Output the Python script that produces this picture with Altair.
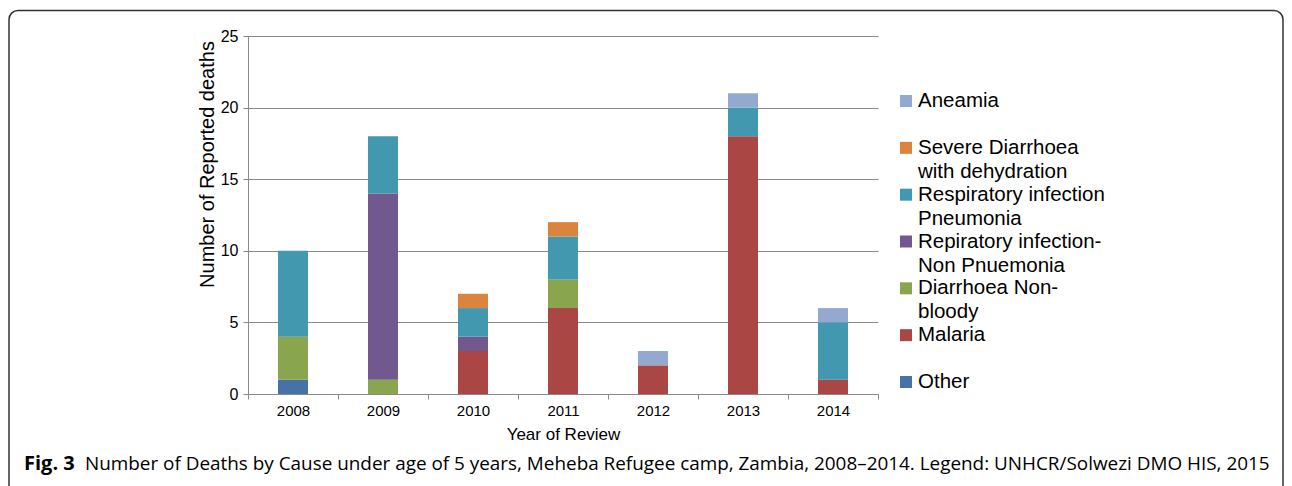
import altair as alt
import pandas as pd

years = ["2008", "2009", "2010", "2011", "2012", "2013", "2014"]

# stack order, bottom -> top
causes = [
    "Other",
    "Malaria",
    "Diarrhoea Non-bloody",
    "Repiratory infection-Non Pnuemonia",
    "Respiratory infection Pneumonia",
    "Severe Diarrhoea with dehydration",
    "Aneamia",
]
colors = ["#4572A7", "#AA4643", "#89A54E", "#71588F", "#4198AF", "#DB843D", "#93A9CF"]

other = [1, 0, 0, 0, 0, 0, 0]
malaria = [0, 0, 3, 6, 2, 18, 1]
diarrhoea = [3, 1, 0, 2, 0, 0, 0]
resp_non_pneumonia = [0, 13, 1, 0, 0, 0, 0]
resp_pneumonia = [6, 4, 2, 3, 0, 2, 4]
severe_diarrhoea = [0, 0, 1, 1, 0, 0, 0]
aneamia = [0, 0, 0, 0, 1, 1, 1]
series = [other, malaria, diarrhoea, resp_non_pneumonia, resp_pneumonia, severe_diarrhoea, aneamia]

# legend text, top -> bottom
legend_order = causes[::-1]
legend_line1 = ["Aneamia", "Severe Diarrhoea", "Respiratory infection", "Repiratory infection-",
                "Diarrhoea Non-", "Malaria", "Other"]
legend_line2 = ["", "with dehydration", "Pneumonia", "Non Pnuemonia", "bloody", "", ""]

y_ticks = [0, 5, 10, 15, 20, 25]
caption_bold = "Fig. 3"
caption_text = ("Number of Deaths by Cause under age of 5 years, Meheba Refugee camp, Zambia, "
                "2008\u20132014. Legend: UNHCR/Solwezi DMO HIS, 2015")

rows = []
for ci, (c, vals) in enumerate(zip(causes, series)):
    for yr, v in zip(years, vals):
        rows.append({"year": yr, "cause": c, "deaths": v, "stack": ci})
df = pd.DataFrame(rows)
legend_df = pd.DataFrame({"cause": legend_order, "line1": legend_line1, "line2": legend_line2})
dummy = pd.DataFrame({"a": [0]})

FONT = "Liberation Sans, Arial, Helvetica, sans-serif"
GRID = "#8a8a8a"
color_scale = alt.Scale(domain=causes, range=colors)

bars = alt.Chart(df).mark_bar(width=alt.RelativeBandSize(0.333)).encode(
    x=alt.X("year:N", sort=years,
            scale=alt.Scale(paddingInner=0, paddingOuter=0),
            axis=alt.Axis(title="Year of Review", labelAngle=0, tickBand="extent",
                          tickSize=5, tickColor=GRID, domainColor=GRID,
                          labelFont=FONT, labelFontSize=15, labelColor="#000",
                          labelPadding=4, titleFont=FONT, titleFontSize=17,
                          titleFontWeight="normal", titleColor="#000",
                          titleY=40, titleBaseline="middle")),
    y=alt.Y("deaths:Q", stack="zero",
            scale=alt.Scale(domain=[0, 25], nice=False),
            axis=alt.Axis(values=y_ticks, title="Number of Reported deaths",
                          grid=True, gridColor=GRID, gridOpacity=1, tickSize=5,
                          tickColor=GRID, domainColor=GRID,
                          labelFont=FONT, labelFontSize=16, labelColor="#000",
                          labelPadding=5, titleFont=FONT, titleFontSize=20,
                          titleFontWeight="normal", titleColor="#000",
                          titleX=-41, titleY=128, titleBaseline="middle",
                          titleAlign="center", titleAngle=270)),
    color=alt.Color("cause:N", scale=color_scale, legend=None),
    order=alt.Order("stack:Q", sort="ascending"),
)

leg_y = alt.Y("cause:N", sort=legend_order,
              scale=alt.Scale(type="point", range=[65, 346], padding=0), axis=None)

leg_sq = alt.Chart(legend_df).mark_square(size=144, opacity=1).encode(
    x=alt.value(658), y=leg_y,
    color=alt.Color("cause:N", scale=color_scale, legend=None),
)
leg_t1 = alt.Chart(legend_df).mark_text(align="left", baseline="middle", font=FONT,
                                        fontSize=20.5, color="#000").encode(
    x=alt.value(670), y=leg_y, text="line1:N")
leg_t2 = alt.Chart(legend_df).mark_text(align="left", baseline="middle", font=FONT,
                                        fontSize=20.5, color="#000", dy=24).encode(
    x=alt.value(670), y=leg_y, text="line2:N")

border = alt.Chart(dummy).mark_rect(fillOpacity=0, stroke="#333", strokeWidth=1.5,
                                    cornerRadius=9).encode(
    x=alt.value(-239), x2=alt.value(1035), y=alt.value(-25.5), y2=alt.value(480))

cap1 = alt.Chart(dummy).mark_text(text=caption_bold, align="left", baseline="middle",
                                  font="Open Sans", fontWeight="bold", fontSize=20,
                                  color="#000").encode(
    x=alt.value(-224), y=alt.value(428))
cap2 = alt.Chart(dummy).mark_text(text=caption_text, align="left", baseline="middle",
                                  font="Open Sans", fontSize=18.9, color="#000").encode(
    x=alt.value(-163), y=alt.value(428))

chart = alt.layer(border, bars, leg_sq, leg_t1, leg_t2, cap1, cap2).resolve_scale(
    y="independent"
).properties(
    width=630, height=358,
    autosize=alt.AutoSizeParams(type="none"),
    padding={"left": 240, "top": 28, "right": 406, "bottom": 92},
).configure_view(stroke=None)

chart.save("out.html", embed_options={"renderer": "svg", "actions": False})
